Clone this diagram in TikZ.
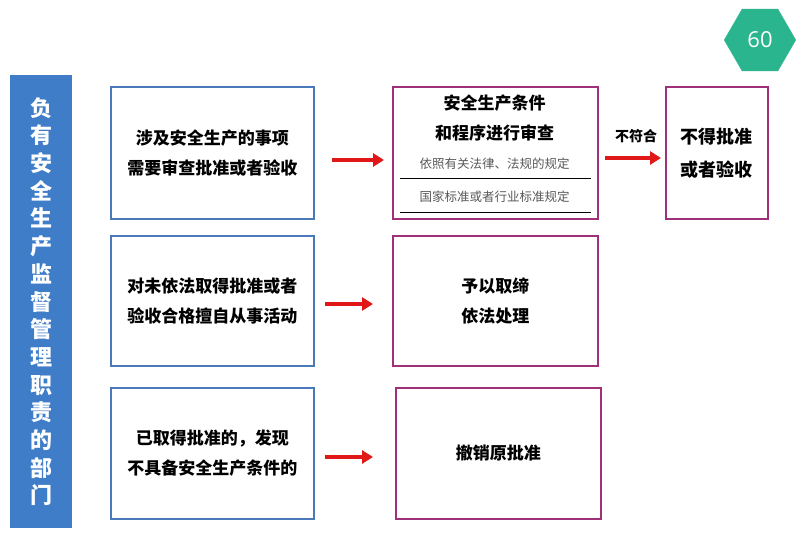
\documentclass[tikz,border=0pt]{standalone}
\usepackage{fontspec}
\newfontfamily\cjk{Noto Sans CJK SC}
\usetikzlibrary{shapes.geometric,arrows.meta}
\definecolor{bluebd}{HTML}{4A78B8}
\definecolor{magbd}{HTML}{A0307A}
\definecolor{barblue}{HTML}{3F7DC8}
\definecolor{hexg}{HTML}{2BB58E}
\definecolor{arrred}{HTML}{E01818}
\begin{document}
\begin{tikzpicture}[x=1pt,y=-1pt,
 lbox/.style={draw=bluebd,line width=1.8pt,inner sep=0},
 mbox/.style={draw=magbd,line width=1.8pt,inner sep=0},
 txt/.style={font=\cjk\bfseries\fontsize{17}{30}\selectfont,align=center},
 sub/.style={font=\cjk\fontsize{12.5}{14}\selectfont,text=black!65},
 arr/.style={draw=arrred,line width=3.5pt,-{Triangle[length=11pt,width=13pt]}}]
\useasboundingbox (0,0) rectangle (800,553);
\fill[white] (0,0) rectangle (800,553);
\node[regular polygon,regular polygon sides=6,shape border rotate=0,fill=hexg,minimum size=72pt,inner sep=0,text=white,font=\fontspec{Open Sans}\fontsize{22}{22}\selectfont] (hex) at (760,40) {60};
\node[fill=barblue,minimum width=62pt,minimum height=453pt,inner sep=0,anchor=north west] (bar) at (10,75) {};
\node[text=white,font=\cjk\bfseries\fontsize{22}{27.7}\selectfont,align=center] (bart) at (bar.center) {负\\有\\安\\全\\生\\产\\监\\督\\管\\理\\职\\责\\的\\部\\门};
% left boxes
\node[lbox,minimum width=203pt,minimum height=132pt,anchor=north west] (l1) at (110,86) {};
\node[txt] at (l1.center) {涉及安全生产的事项\\需要审查批准或者验收};
\node[lbox,minimum width=203pt,minimum height=130pt,anchor=north west] (l2) at (110,235) {};
\node[txt] at (l2.center) {对未依法取得批准或者\\验收合格擅自从事活动};
\node[lbox,minimum width=203pt,minimum height=131pt,anchor=north west] (l3) at (110,387) {};
\node[txt] at (l3.center) {已取得批准的，发现\\不具备安全生产条件的};
% middle boxes
\node[mbox,minimum width=205pt,minimum height=132pt,anchor=north west] (m1) at (392,86) {};
\node[txt] at (494.5,118) {安全生产条件\\和程序进行审查};
\node[sub] at (494.5,164) {依照有关法律、法规的规定};
\node[sub] at (494.5,197) {国家标准或者行业标准规定};
\draw[line width=0.6pt] (400,178) -- (591,178);
\draw[line width=0.6pt] (400,212) -- (591,212);
\node[mbox,minimum width=205pt,minimum height=130pt,anchor=north west] (m2) at (392,235) {};
\node[txt] at (m2.center) {予以取缔\\依法处理};
\node[mbox,minimum width=205pt,minimum height=131pt,anchor=north west] (m3) at (395,387) {};
\node[txt] at (m3.center) {撤销原批准};
% right box
\node[mbox,minimum width=102pt,minimum height=132pt,anchor=north west] (r1) at (665,86) {};
\node[txt,font=\cjk\bfseries\fontsize{18}{33}\selectfont] at (r1.center) {不得批准\\或者验收};
% arrows
\coordinate (a1s) at (332,160); \coordinate (a1e) at (384,160);
\coordinate (a2s) at (325,304); \coordinate (a2e) at (373,304);
\coordinate (a3s) at (325,457); \coordinate (a3e) at (373,457);
\coordinate (a4s) at (605,158); \coordinate (a4e) at (661,158);
\draw[arr] (a1s) -- (a1e);
\draw[arr] (a2s) -- (a2e);
\draw[arr] (a3s) -- (a3e);
\draw[arr] (a4s) -- (a4e);
\node[font=\cjk\bfseries\fontsize{14}{16}\selectfont] (lab) at (636,136) {不符合};
\end{tikzpicture}
\end{document}
